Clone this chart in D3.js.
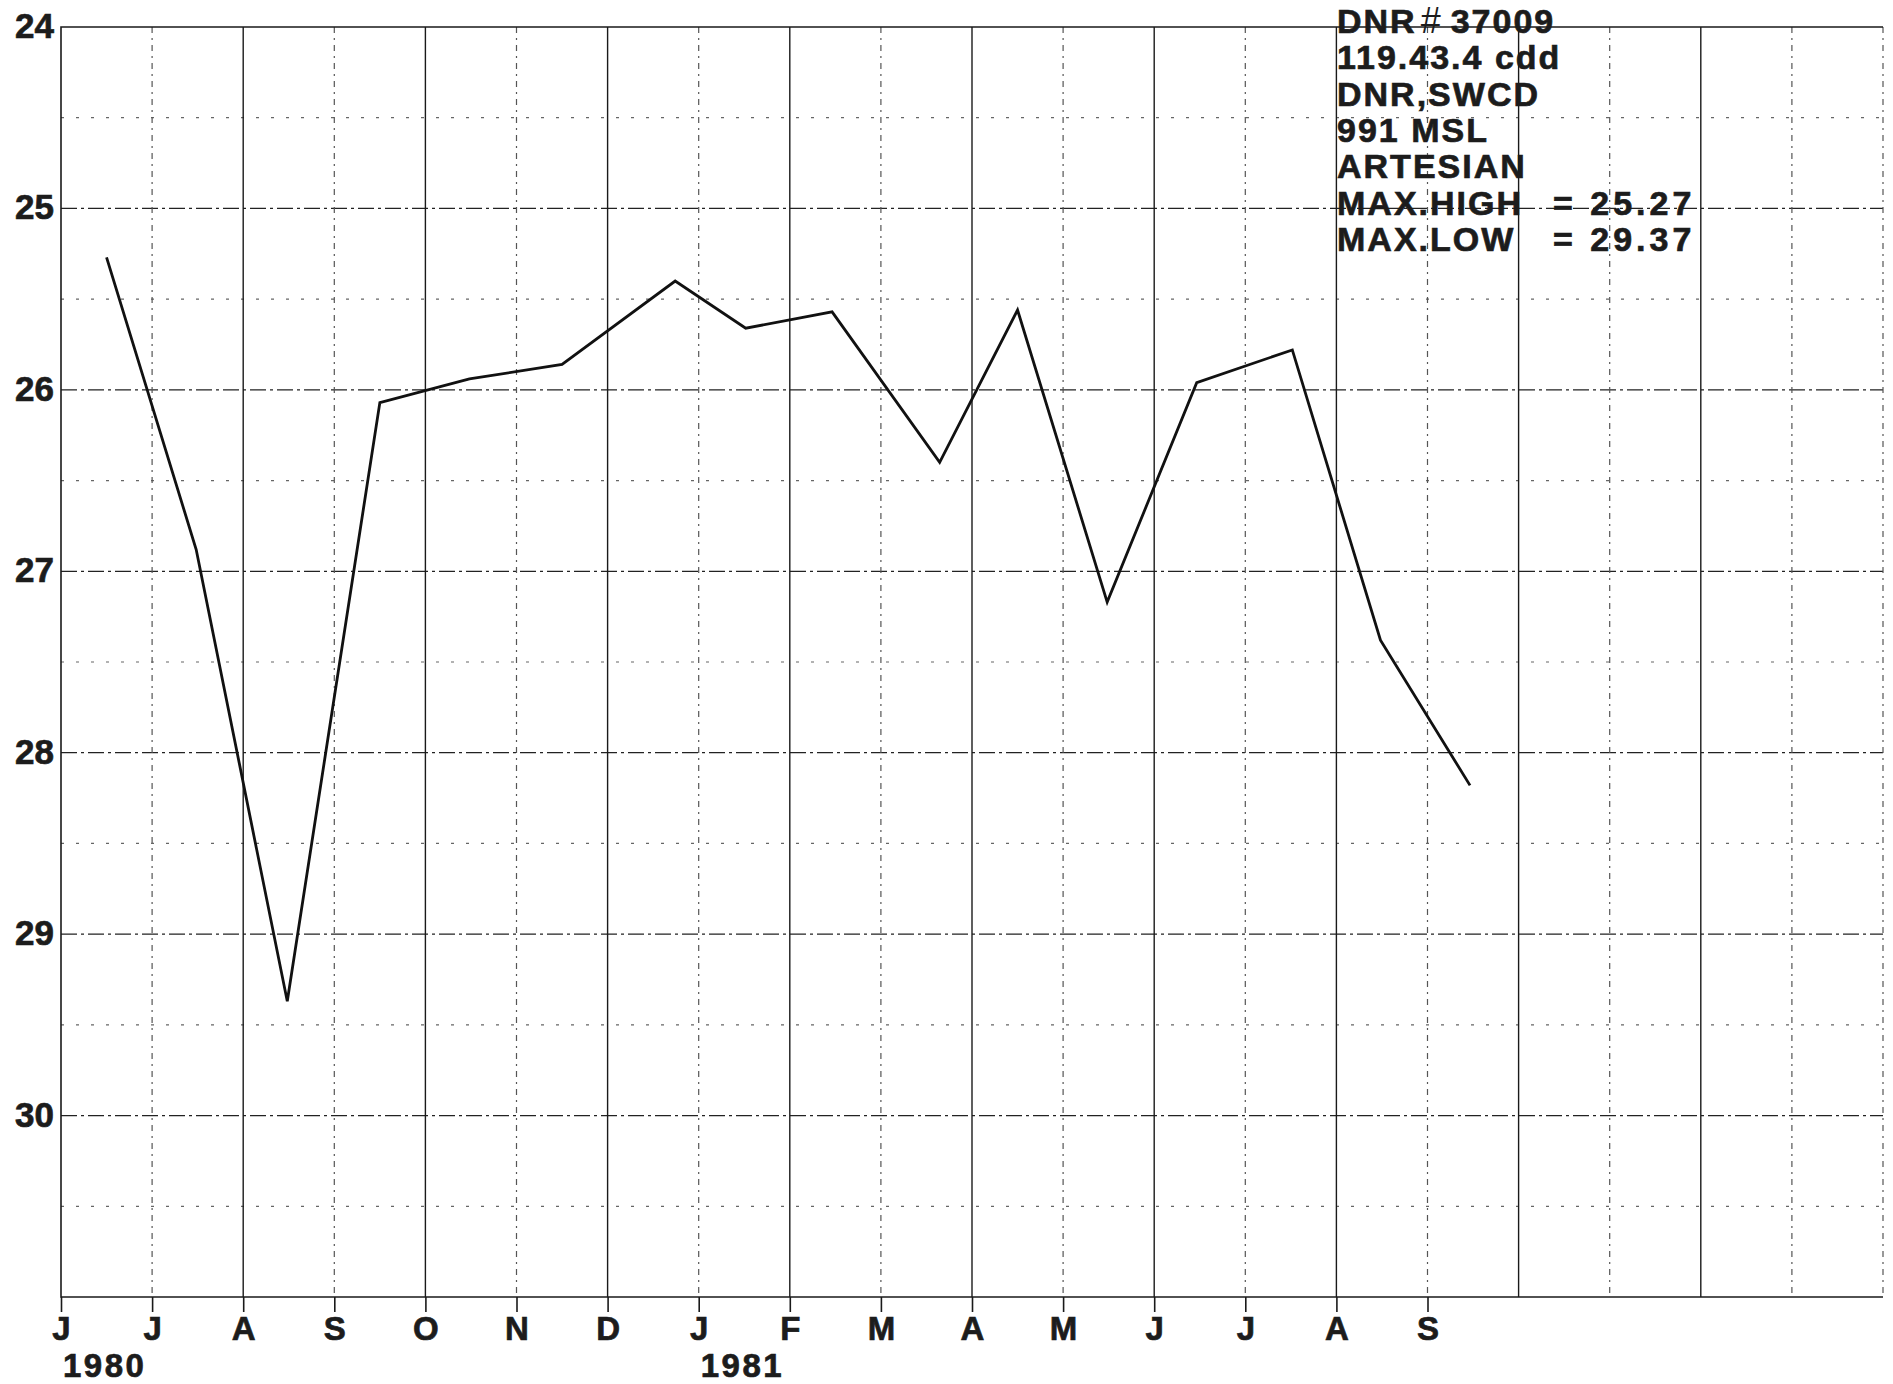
<!DOCTYPE html>
<html>
<head>
<meta charset="utf-8">
<script src="https://cdn.jsdelivr.net/npm/d3@7"></script>
<style>
  html, body { margin: 0; padding: 0; background: #ffffff; }
  svg { display: block; }
  text {
    font-family: "Liberation Sans", Arial, Helvetica, sans-serif;
    font-weight: bold;
    fill: #1c1c1c;
    stroke: #1c1c1c;
    stroke-width: 0.7px;
  }
</style>
</head>
<body>
<div id="chart"></div>
<script>
// well hydrograph, depth to water below land surface (ft)
const monthLabels = ['J', 'J', 'A', 'S', 'O', 'N', 'D', 'J', 'F', 'M', 'A', 'M', 'J', 'J', 'A', 'S'];
const yearLabels = ['1980', '1981'];
const yearMonths = [0, 7];
const depthTicks = [24, 25, 26, 27, 28, 29, 30];

const sampleDates = [
  '1980-06-16', '1980-07-16', '1980-08-16', '1980-09-16', '1980-10-16', '1980-11-16',
  '1980-12-24', '1981-01-17', '1981-02-14', '1981-03-21', '1981-04-16', '1981-05-16',
  '1981-06-15', '1981-07-17', '1981-08-16', '1981-09-15'
];
const depths = [
  25.27, 26.88, 29.37, 26.07, 25.94, 25.86,
  25.40, 25.66, 25.57, 26.40, 25.56, 27.17,
  25.96, 25.78, 27.38, 28.18
];

const noteLines = ['DNR', '119.43.4 cdd', 'DNR,SWCD', '991 MSL', 'ARTESIAN', 'MAX.HIGH', 'MAX.LOW'];
const noteValues = ['', '', '', '', '', '= 25.27', '= 29.37'];

const width = 1893;
const height = 1384;
const margin = { top: 27, right: 10, bottom: 87, left: 61 };
const monthCount = 20;   // Jun 1980 .. Feb 1982

const startMonth = new Date(1980, 5, 1);
const parseDate = d3.timeParse('%Y-%m-%d');

// fractional month index counted from June 1980
function monthIndex(s) {
  const d = parseDate(s);
  const m0 = d3.timeMonth.floor(d);
  const m1 = d3.timeMonth.offset(m0, 1);
  return d3.timeMonth.count(startMonth, m0) + (d - m0) / (m1 - m0);
}

const points = sampleDates.map((s, i) => ({ m: monthIndex(s), v: depths[i] }));

const x = d3.scaleLinear()
  .domain([0, monthCount])
  .range([margin.left, width - margin.right]);

const y = d3.scaleLinear()
  .domain([24, 31])
  .range([margin.top, height - margin.bottom]);

const svg = d3.select('#chart')
  .append('svg')
  .attr('width', width)
  .attr('height', height);

const grid = svg.append('g').attr('class', 'grid');

// half-foot lines, sparse dashes
grid.selectAll('.half')
  .data(d3.range(24.5, 31, 1))
  .enter()
  .append('line')
  .attr('x1', x(0))
  .attr('x2', x(monthCount))
  .attr('y1', d => y(d))
  .attr('y2', d => y(d))
  .attr('stroke', '#666')
  .attr('stroke-width', 1.2)
  .attr('stroke-dasharray', '3,12');

// whole-foot lines, dash-dot
grid.selectAll('.whole')
  .data(d3.range(25, 31))
  .enter()
  .append('line')
  .attr('x1', x(0))
  .attr('x2', x(monthCount))
  .attr('y1', d => y(d))
  .attr('y2', d => y(d))
  .attr('stroke', '#222')
  .attr('stroke-width', 1.3)
  .attr('stroke-dasharray', '16,4,3,4');

// month lines: every other month solid, the rest dashed
grid.selectAll('.month')
  .data(d3.range(1, monthCount + 1))
  .enter()
  .append('line')
  .attr('x1', d => x(d))
  .attr('x2', d => x(d))
  .attr('y1', y(24))
  .attr('y2', y(31))
  .attr('stroke', d => d % 2 === 0 && d < monthCount ? '#1a1a1a' : '#555')
  .attr('stroke-width', d => d % 2 === 0 && d < monthCount ? 1.4 : 1.2)
  .attr('stroke-dasharray', d => d % 2 === 0 && d < monthCount ? null : '6,5,2,5');

// frame: left, top, bottom
svg.append('path')
  .attr('d', `M${x(monthCount)},${y(24)}H${x(0)}V${y(31)}H${x(monthCount)}`)
  .attr('fill', 'none')
  .attr('stroke', '#1a1a1a')
  .attr('stroke-width', 1.6);

// depth labels
svg.append('g')
  .selectAll('text')
  .data(depthTicks)
  .enter()
  .append('text')
  .attr('x', 54)
  .attr('y', d => y(d) + 11)
  .attr('text-anchor', 'end')
  .attr('font-size', '35px')
  .text(d => d);

// month ticks and labels
const xAxis = d3.axisBottom(x)
  .tickValues(d3.range(monthLabels.length))
  .tickSize(15)
  .tickPadding(2)
  .tickFormat(i => monthLabels[i]);

const axisG = svg.append('g')
  .attr('transform', `translate(0, ${y(31)})`)
  .call(xAxis);

axisG.select('.domain').remove();
axisG.selectAll('.tick line')
  .attr('stroke', '#1a1a1a')
  .attr('stroke-width', 1.6);
axisG.selectAll('.tick text')
  .attr('font-size', '33px')
  .attr('font-family', '"Liberation Sans", Arial, sans-serif')
  .attr('font-weight', 'bold')
  .attr('fill', '#1c1c1c')
  .attr('dy', '0.78em');

svg.append('g')
  .selectAll('text')
  .data(yearLabels)
  .enter()
  .append('text')
  .attr('x', (d, i) => x(yearMonths[i]) + 2)
  .attr('y', 1377)
  .attr('font-size', '33px')
  .attr('letter-spacing', '2.5px')
  .text(d => d);

// hydrograph line
const line = d3.line()
  .x(d => x(d.m))
  .y(d => y(d.v));

svg.append('path')
  .datum(points)
  .attr('d', line)
  .attr('fill', 'none')
  .attr('stroke', '#111')
  .attr('stroke-width', 2.8)
  .attr('stroke-linejoin', 'miter');

// well notes, top right
const notes = svg.append('g').attr('class', 'notes');
const noteX = 1337;
const noteValueX = 1553;
const noteTop = 33;
const noteStep = 36.3;

notes.selectAll('.note')
  .data(noteLines)
  .enter()
  .append('text')
  .attr('class', 'note')
  .attr('x', noteX)
  .attr('y', (d, i) => noteTop + i * noteStep)
  .attr('font-size', '34px')
  .attr('letter-spacing', '2px')
  .text(d => d);

// first line carries the well number after a thin "#"
const firstNote = notes.select('.note');
firstNote.append('tspan')
  .attr('dx', 4)
  .attr('font-weight', 'normal')
  .attr('font-size', '36px')
  .style('stroke-width', '0px')
  .text('#');
firstNote.append('tspan')
  .attr('dx', 8)
  .text('37009');

notes.selectAll('.note-value')
  .data(noteValues)
  .enter()
  .append('text')
  .attr('class', 'note-value')
  .attr('x', noteValueX)
  .attr('y', (d, i) => noteTop + i * noteStep)
  .attr('font-size', '34px')
  .attr('letter-spacing', '4px')
  .attr('xml:space', 'preserve')
  .style('white-space', 'pre')
  .text(d => d);
</script>
</body>
</html>
